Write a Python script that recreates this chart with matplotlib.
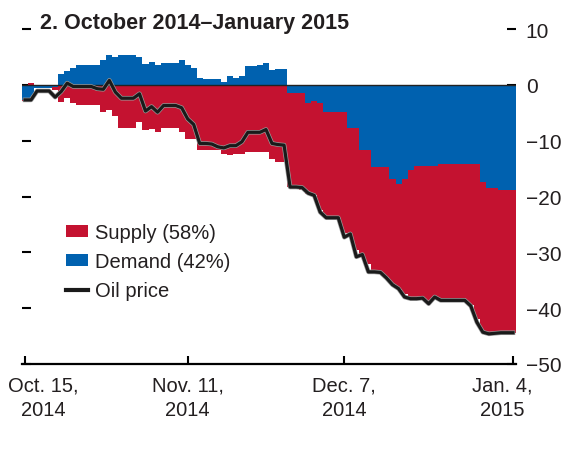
import numpy as np
import matplotlib
matplotlib.use("Agg")
import matplotlib.pyplot as plt
from matplotlib.patches import Patch
from matplotlib.lines import Line2D
import matplotlib.patheffects as pe
import matplotlib.transforms as mtransforms

plt.rcParams['font.family'] = ['Liberation Sans', 'DejaVu Sans']

# daily values, Oct 15 2014 (day 0) to Jan 4 2015 (day 81), percent change
demand = [-2.7, -2.7, -0.6, -0.6, -0.6, -0.3, 1.9, 2.5, 3.0, 3.6,
          3.6, 3.6, 3.6, 4.4, 5.4, 4.9, 5.4, 5.4, 5.4, 4.9,
          3.8, 4.1, 3.5, 4.0, 4.0, 4.0, 4.4, 3.6, 3.0, 1.2,
          1.0, 1.0, 1.0, 0.5, 1.5, 1.2, 1.5, 3.3, 3.3, 3.5,
          4.0, 2.7, 2.8, 2.8, -1.5, -1.5, -1.5, -3.3, -2.9, -3.3,
          -4.8, -4.8, -4.8, -4.8, -7.7, -7.7, -11.6, -11.6, -14.8, -14.8,
          -14.8, -16.8, -17.7, -16.9, -15.3, -14.6, -14.6, -14.6, -14.6, -14.2,
          -14.2, -14.2, -14.1, -14.1, -14.1, -14.1, -17.4, -18.4, -18.4, -18.9,
          -18.9, -18.9]
supply = [-0.2, 0.3, 0.0, 0.0, 0.0, -0.6, -3.0, -2.3, -3.2, -3.7,
          -3.7, -3.7, -3.7, -4.9, -4.5, -5.5, -7.8, -7.8, -7.8, -6.7,
          -8.0, -7.9, -8.4, -7.8, -7.8, -7.8, -8.5, -9.7, -9.7, -11.7,
          -11.7, -11.7, -11.7, -12.4, -12.6, -12.3, -12.3, -12.0, -12.0, -12.0,
          -12.0, -13.2, -13.8, -13.8, -16.8, -16.8, -17.3, -16.2, -16.9, -19.2,
          -19.0, -19.0, -19.0, -21.7, -19.3, -21.8, -19.1, -20.4, -18.7, -18.8,
          -19.7, -18.8, -18.8, -20.6, -23.0, -23.7, -23.7, -24.4, -23.6, -24.3,
          -24.4, -24.4, -24.5, -24.5, -25.4, -27.9, -26.9, -26.2, -26.1, -25.6,
          -25.6, -25.6]
oil_price = [-2.7, -2.7, -1.1, -1.1, -1.1, -2.2, -1.2, 0.3, -0.3, -0.3,
             -0.3, -0.3, -0.7, -0.8, 0.8, -1.3, -2.4, -2.4, -2.4, -1.6,
             -4.7, -3.9, -4.9, -3.7, -3.7, -3.7, -4.1, -6.1, -7.1, -10.5,
             -10.5, -10.6, -11.1, -11.3, -10.9, -10.9, -10.2, -8.5, -8.5, -8.5,
             -8.0, -10.5, -10.7, -10.8, -18.3, -18.3, -18.4, -19.4, -19.8, -22.8,
             -23.8, -23.8, -23.8, -27.3, -26.7, -30.8, -30.4, -33.5, -33.5, -33.6,
             -34.6, -35.8, -36.5, -38.0, -38.3, -38.3, -38.2, -39.2, -38.0, -38.6,
             -38.6, -38.6, -38.6, -38.6, -39.6, -42.5, -44.3, -44.6, -44.5, -44.4,
             -44.4, -44.4]

tick_days = [0, 27, 53, 81]
tick_labels = ["Oct. 15,\n2014", "Nov. 11,\n2014", "Dec. 7,\n2014", "Jan. 4,\n2015"]
legend_labels = ["Supply (58%)", "Demand (42%)", "Oil price"]

red = '#C41230'
blue = '#0061AF'

days = np.arange(len(demand))
d = np.array(demand)
s = np.array(supply)
s_bottom = np.where(s < 0, np.minimum(d, 0), np.maximum(d, 0))

fig = plt.figure(figsize=(5.76, 4.52), dpi=100)
ax = fig.add_axes([22/576, 1 - 365/452, (516 - 22)/576, (365 - 30)/452])

ax.bar(days, d, width=1.0, color=blue, linewidth=0, antialiased=False)
ax.bar(days, s, bottom=s_bottom, width=1.0, color=red, linewidth=0, antialiased=False)
ax.axhline(0, color='#222222', lw=1.0, zorder=2)
ax.plot(days, oil_price, color='#1a1a1a', lw=2.3, zorder=3, solid_joinstyle='round',
        path_effects=[pe.Stroke(linewidth=3.3, foreground='#9a9a9a'), pe.Normal()])

ax.set_xlim(-0.5, len(days) - 0.5)
ax.set_ylim(-50, 10)
ax.set_axisbelow(True)

for side in ['top', 'left', 'right']:
    ax.spines[side].set_visible(False)
ax.spines['bottom'].set_linewidth(1.6)

ax.set_xticks(tick_days)
ax.set_xticklabels(tick_labels, fontsize=14.5, linespacing=1.4, color='#231f20')
ax.tick_params(axis='x', direction='in', length=6, width=1.5, pad=8)

ax.set_yticks(np.arange(-50, 11, 10))
ax.yaxis.tick_right()
ax.tick_params(axis='y', which='both', direction='in', length=6.5, width=1.5,
               labelsize=15, pad=7, left=True, right=True, labelleft=False, labelright=True,
               labelcolor='#231f20')

# nudge the end labels inward like the original
labs = ax.get_xticklabels()
labs[0].set_transform(labs[0].get_transform() + mtransforms.ScaledTranslation(18/100, 0, fig.dpi_scale_trans))
labs[-1].set_transform(labs[-1].get_transform() + mtransforms.ScaledTranslation(-11/100, 0, fig.dpi_scale_trans))

fig.text(40/576, 1 - 23/452, "2. October 2014\u2013January 2015", fontsize=15.5,
         fontweight='bold', va='center', ha='left', color='#231f20')

handles = [Patch(facecolor=red, edgecolor='none'),
           Patch(facecolor=blue, edgecolor='none'),
           Line2D([0], [0], color='#1a1a1a', lw=3)]
leg = ax.legend(handles, legend_labels, loc='upper left', bbox_to_anchor=(66/576, 1 - 224/452),
                bbox_transform=fig.transFigure, frameon=False, fontsize=14.5, borderpad=0,
                borderaxespad=0, handlelength=1.1, handleheight=0.55, handletextpad=0.35,
                labelspacing=0.5)
for t in leg.get_texts():
    t.set_color('#231f20')

fig.savefig('out.png', dpi=100)
